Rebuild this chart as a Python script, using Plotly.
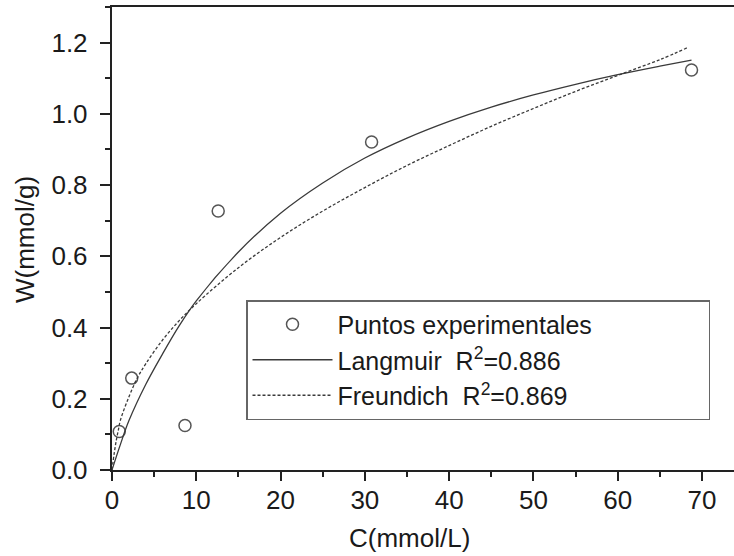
import plotly.graph_objects as go

# Experimental points
exp_C = [0.86, 2.34, 8.66, 12.6, 30.8, 68.76]
exp_W = [0.108, 0.258, 0.125, 0.727, 0.921, 1.123]

# Langmuir fitted curve
lang_C = [0, 1, 2, 4, 6, 8, 10, 15, 20, 25, 30, 35, 40, 45, 50, 55, 60, 65, 68.76]
lang_W = [0.0, 0.072, 0.138, 0.240, 0.326, 0.406, 0.475, 0.612, 0.721, 0.806,
          0.876, 0.932, 0.979, 1.019, 1.053, 1.083, 1.110, 1.134, 1.151]

# Freundlich fitted curve
freu_C = [0, 0.25, 0.5, 0.75, 1, 2, 3, 4, 6, 8, 10, 15, 20, 25, 30, 35, 40, 45, 50, 55, 60, 65, 68.2]
freu_W = [0.0, 0.045, 0.082, 0.112, 0.140, 0.205, 0.258, 0.298, 0.365, 0.420, 0.467, 0.568,
          0.653, 0.727, 0.793, 0.855, 0.911, 0.965, 1.015, 1.063, 1.108, 1.152, 1.185]

x_ticks = [0, 10, 20, 30, 40, 50, 60, 70]
y_ticks = [0.0, 0.2, 0.4, 0.6, 0.8, 1.0, 1.2]

FONT = "Liberation Sans, Arial, sans-serif"
FS = 26
LFS = 25
TXT = "#1a1a1a"
AX = "#222222"

PAD = "\u00a0" * 16

fig = go.Figure()
fig.add_trace(go.Scatter(
    x=exp_C, y=exp_W, mode="markers", name="Puntos experimentales" + PAD,
    marker=dict(symbol="circle-open", size=12, color="#555555", line=dict(width=1.5)),
))
fig.add_trace(go.Scatter(
    x=lang_C, y=lang_W, mode="lines", name="Langmuir  R<sup>2</sup>=0.886",
    line=dict(color="#3a3a3a", width=1.3, shape="spline"),
))
fig.add_trace(go.Scatter(
    x=freu_C, y=freu_W, mode="lines", name="Freundich  R<sup>2</sup>=0.869",
    line=dict(color="#3a3a3a", width=1.3, dash="3px,2px", shape="spline"),
))

axis_common = dict(
    showgrid=False, zeroline=False, showline=True, linecolor=AX, linewidth=2,
    ticks="outside", tickwidth=1.5, tickcolor=AX,
    tickfont=dict(family=FONT, size=FS, color=TXT),
)

fig.update_xaxes(
    range=[0, 73.8], tickvals=x_ticks, ticktext=[str(v) for v in x_ticks],
    mirror=True, ticklen=9, ticklabelstandoff=-3,
    minor=dict(ticks="outside", ticklen=5, tickwidth=1.5, tickcolor=AX, dtick=5, tick0=0),
    **axis_common,
)
fig.update_yaxes(
    range=[0, 1.3], tickvals=y_ticks, ticktext=[f"{v:.1f}\u00a0" for v in y_ticks],
    ticklen=10,
    minor=dict(ticks="outside", ticklen=5, tickwidth=1.5, tickcolor=AX, dtick=0.1, tick0=0),
    **axis_common,
)

fig.update_layout(
    width=734, height=556,
    margin=dict(l=112, r=0, t=7, b=86),
    paper_bgcolor="white", plot_bgcolor="white",
    font=dict(family=FONT, size=FS, color=TXT),
    showlegend=True,
    legend=dict(
        x=(246 - 112) / 622, y=(470 - 300) / 463, xanchor="left", yanchor="top",
        bordercolor="#666666", borderwidth=1.5, bgcolor="white",
        font=dict(family=FONT, size=LFS, color=TXT),
        itemwidth=80,
    ),
    annotations=[
        dict(text="C(mmol/L)", xref="paper", yref="paper", x=(409 - 112) / 622, y=-(538 - 470) / 463,
             xanchor="center", yanchor="middle", showarrow=False,
             font=dict(family=FONT, size=FS, color=TXT)),
        dict(text="W(mmol/g)", xref="paper", yref="paper", x=-(112 - 25) / 622, y=(470 - 240) / 463,
             xanchor="center", yanchor="middle", showarrow=False, textangle=-90,
             font=dict(family=FONT, size=FS, color=TXT)),
    ],
)

fig.write_html("out.html")
